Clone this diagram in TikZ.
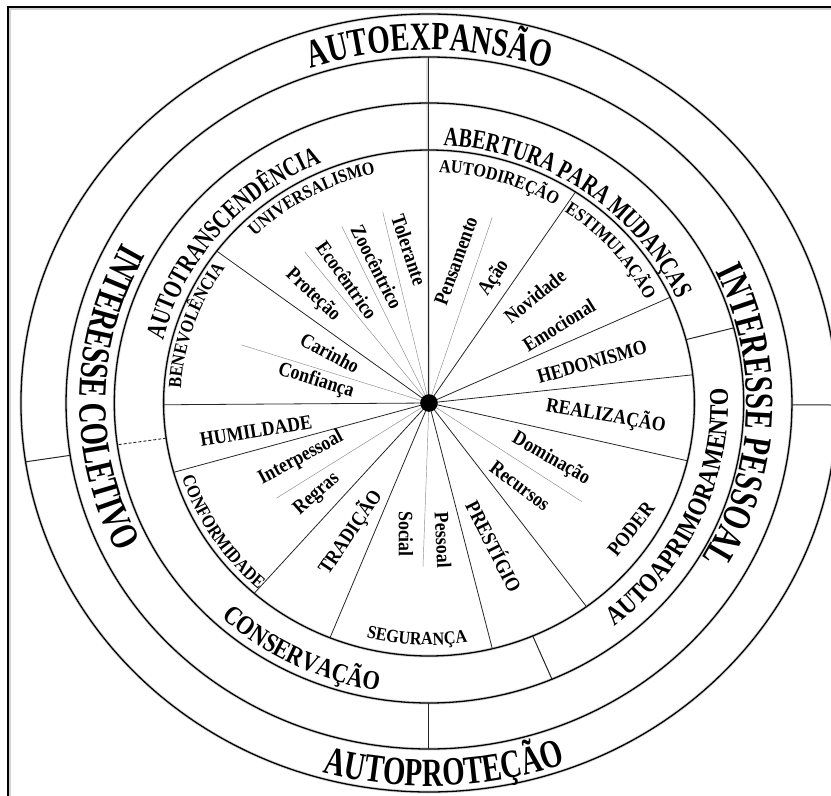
\documentclass[tikz,border=0pt]{standalone}
\usepackage{fontspec}
\setmainfont{Liberation Serif}
\newfontfamily\bandfam{Liberation Serif}[FakeStretch=0.72]
\newfontfamily\ringfam{Liberation Serif}[FakeStretch=0.74]
\newfontfamily\ringwidefam{Liberation Serif}[FakeStretch=0.83]
\newfontfamily\valfam{Liberation Serif}[FakeStretch=0.87]
\usetikzlibrary{decorations.text}

\newcommand\fntBand{\bandfam\bfseries\fontsize{40}{40}\selectfont}
\newcommand\fntRing{\ringfam\bfseries\fontsize{27}{27}\selectfont}
\newcommand\fntRingW{\ringwidefam\bfseries\fontsize{27}{27}\selectfont}
\newcommand\fntVal{\valfam\bfseries\fontsize{18.5}{18.5}\selectfont}
\newcommand\fntLab{\valfam\bfseries\fontsize{20.5}{20.5}\selectfont}

% horizontal stretch of the rings
\newcommand\kx{1.049}

% text on an elliptic arc: font, text, y radius, centre angle, half span, 1=clockwise / 0=counter-clockwise
\newcommand\arclabel[6]{%
  \pgfmathsetmacro\arcA{#6==1 ? #4+#5 : #4-#5}%
  \pgfmathsetmacro\arcB{#6==1 ? #4-#5 : #4+#5}%
  \pgfmathsetmacro\arcRx{\kx*#3}%
  \path[decorate,decoration={text along path,text align=center,text={|#1|#2}}]
    (\arcA:\arcRx pt and #3pt) arc[start angle=\arcA,end angle=\arcB,x radius=\arcRx pt,y radius=#3pt];%
}

\tikzset{
  ring/.style={line width=1.3pt},
  spoke/.style={line width=0.8pt,black!85},
  subspoke/.style={line width=0.45pt,black!45},
  shade/.style={black!16,line width=3pt,shift={(-1.4pt,-1.4pt)}},
  lab/.style={font=\fntLab,inner sep=0pt},
}

\begin{document}
\begin{tikzpicture}[x=1pt,y=1pt]
\useasboundingbox (-429,-393) rectangle (402,403);
\clip (-429,-393) rectangle (402,403);
\fill[white] (-429,-393) rectangle (402,403);

% frame
\draw[black!18,line width=3pt] (-419.5,-400) -- (-419.5,394.5) -- (410,394.5);
\draw[line width=2pt] (-421,-400) -- (-421,396) -- (410,396);

\coordinate (c) at (0,0);

\begin{scope}[xscale=\kx]
  % soft shadow under the rings and main dividers
  \foreach \r in {389,346,300,253}
    \draw[shade] (c) circle (\r);
  \draw[shade,line width=2.5pt] (c) -- (90:346);

  % rings
  \draw[ring] (c) circle (389);
  \draw[ring] (c) circle (346);
  \draw[ring] (c) circle (300);
  \draw[ring] (c) circle (253);

  % dividers of the outer bands
  \draw[spoke,line width=1pt] (188.7:346) -- (188.7:389);
  \draw[spoke,line width=1pt] (-0.3:346) -- (-0.3:389);
  \draw[spoke,line width=1pt] (270:300) -- (270:346);
  \draw[spoke,line width=1pt] (14.5:253) -- (14.5:300);
  \draw[spoke,line width=1pt] (-67:253) -- (-67:300);
  \draw[spoke,line width=0.9pt,dash pattern=on 3pt off 2pt] (188:253) -- (188:300);

  % sectors of the values
  \draw[spoke,line width=1pt] (c) -- (90:346);
  \foreach \a in {56.5,24.7,6.4,-13.2,-53.6,-76.2,248.1,228.8,195.9,180.4,143.1}
    \draw[spoke] (c) -- (\a:253);

  % sub-divisions
  \foreach \a/\r in {103/196,115.2/195,128.1/192,162/188,72/195,213.2/174,268/164,-34.1/176}
    \draw[subspoke] (c) -- (\a:\r);
\end{scope}

\fill (c) circle (8.8pt);

% outer band labels
\arclabel{\fntBand}{AUTOEXPANSÃO}{353}{90}{40}{1}
\arclabel{\fntBand}{AUTOPROTEÇÃO}{383}{-87.7}{40}{0}
\arclabel{\fntBand}{INTERESSE COLETIVO}{333}{179}{60}{0}
\arclabel{\fntBand}{INTERESSE PESSOAL}{303}{-2.5}{60}{1}

% higher order values
\arclabel{\fntRing}{AUTOTRANSCENDÊNCIA}{261}{140}{45}{1}
\arclabel{\fntRing}{ABERTURA PARA MUDANÇAS}{258}{55}{45}{1}
\arclabel{\fntRingW}{AUTOAPRIMORAMENTO}{285}{-24}{45}{0}
\arclabel{\fntRingW}{CONSERVAÇÃO}{292}{243.5}{40}{0}

% values along the inner ring
\arclabel{\fntVal}{UNIVERSALISMO}{235}{119}{35}{1}
\arclabel{\fntVal}{AUTODIREÇÃO}{231}{73}{30}{1}
\arclabel{\fntVal}{ESTIMULAÇÃO}{231}{41}{30}{1}
\arclabel{\fntVal}{BENEVOLÊNCIA}{237}{161}{30}{1}
\arclabel{\fntVal}{CONFORMIDADE}{247}{213}{30}{0}
\arclabel{\fntVal}{SEGURANÇA}{242}{267.2}{30}{0}

% values and sub-values inside the sectors
\node[lab,rotate=56]   (tra) at (-79,-129) {TRADIÇÃO};
\node[lab,rotate=9.5]  (hum) at (-173,-28) {HUMILDADE};
\node[lab,rotate=15.9] (hed) at (163,41)   {HEDONISMO};
\node[lab,rotate=-9.6] (rea) at (177,-12)  {REALIZAÇÃO};
\node[lab,rotate=51.6] (pod) at (202,-126) {PODER};
\node[lab,rotate=-63.2](pre) at (66,-143)  {PRESTÍGIO};
\node[lab,rotate=-71.6](tol) at (-20,153)  {Tolerante};
\node[lab,rotate=-63.4](zoo) at (-52,136)  {Zoocêntrico};
\node[lab,rotate=-54.8](eco) at (-82,123)  {Ecocêntrico};
\node[lab,rotate=-43.3](prt) at (-116,108) {Proteção};
\node[lab,rotate=-28.2](car) at (-99,50)   {Carinho};
\node[lab,rotate=-17.5](con) at (-113,22)  {Confiança};
\node[lab,rotate=70]   (pen) at (27,142)   {Pensamento};
\node[lab,rotate=56.3] (aca) at (65,125)   {Ação};
\node[lab,rotate=38.7] (nov) at (106,107)  {Novidade};
\node[lab,rotate=32]   (emo) at (130,78)   {Emocional};
\node[lab,rotate=-29.8](dom) at (122,-56)  {Dominação};
\node[lab,rotate=-36.9](rec) at (91,-83)   {Recursos};
\node[lab,rotate=28.4] (int) at (-128,-55) {Interpessoal};
\node[lab,rotate=41.5] (reg) at (-112,-91) {Regras};
\node[lab,rotate=-90]  (soc) at (-23,-131) {Social};
\node[lab,rotate=-87]  (pes) at (14,-137)  {Pessoal};
\end{tikzpicture}
\end{document}
